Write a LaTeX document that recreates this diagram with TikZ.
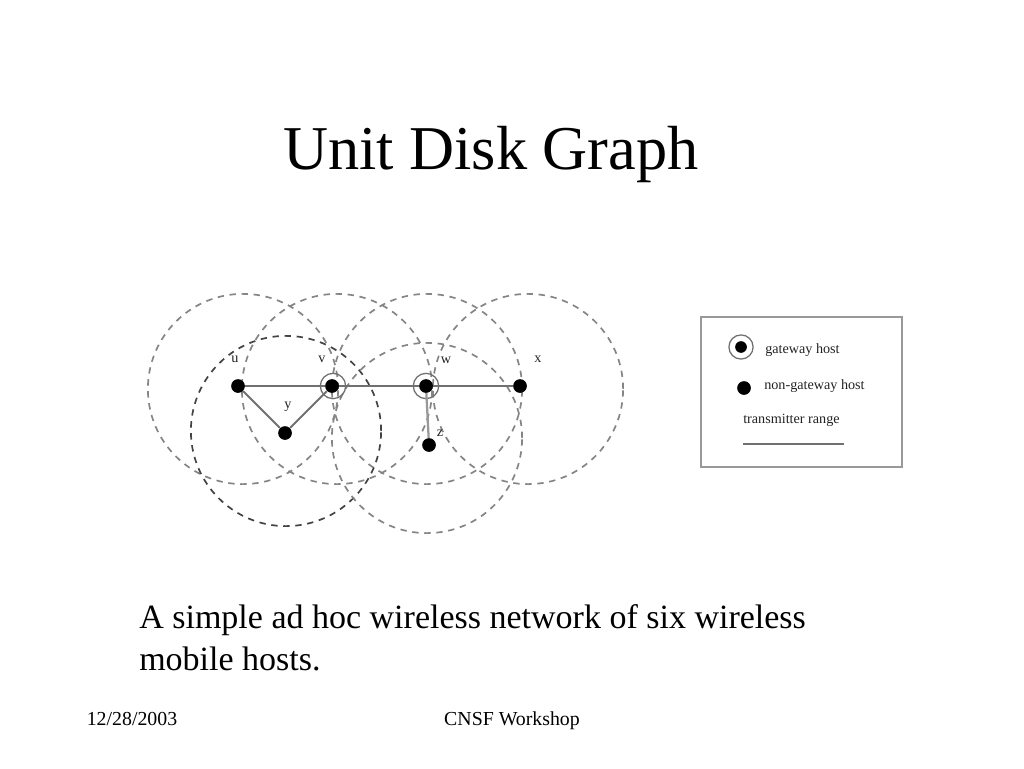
\documentclass[tikz,border=0pt]{standalone}
\usepackage{fontspec}
\setmainfont{Liberation Serif}
\usetikzlibrary{positioning}
\definecolor{RangeGray}{HTML}{858585}
\definecolor{EdgeGray}{HTML}{707070}
\definecolor{BoxGray}{HTML}{999999}
\definecolor{InkDark}{HTML}{222222}

\begin{document}
\begin{tikzpicture}[x=0.0248047cm, y=-0.0248047cm,
    rangedisk/.style={circle, draw=RangeGray, line width=1.2pt, dash pattern=on 4.5pt off 4pt, minimum size=4.72cm, inner sep=0pt},
    host/.style={circle, fill=black, minimum size=0.34cm, inner sep=0pt},
    gatering/.style={circle, draw=EdgeGray, line width=0.9pt, minimum size=0.63cm, inner sep=0pt},
    hostlabel/.style={font=\fontsize{10}{11}\selectfont, text=InkDark, inner sep=0pt},
    legendlabel/.style={font=\fontsize{10}{11}\selectfont, text=InkDark, inner sep=0pt, anchor=base west},
    edge/.style={draw=EdgeGray, line width=1pt}]
  \useasboundingbox (0,0) rectangle (1024,768);

  \node[font=\fontsize{44}{50}\selectfont, anchor=base] (title) at (491,169) {Unit Disk Graph};

  \node[rangedisk] (rangeu) at (243,389) {};
  \node[rangedisk] (rangev) at (337,389) {};
  \node[rangedisk] (rangew) at (427,389) {};
  \node[rangedisk] (rangex) at (528,389) {};
  \node[rangedisk, draw=InkDark!85] (rangey) at (286,431) {};
  \node[rangedisk] (rangez) at (427,438) {};

  \node[host] (hostu) at (238,386) {};
  \node[host] (hostv) at (332,386) {};
  \node[host] (hostw) at (426,386) {};
  \node[host] (hostx) at (520,386) {};
  \node[host] (hosty) at (285,433) {};
  \node[host] (hostz) at (429,445) {};
  \node[gatering] (ringv) at (333,386) {};
  \node[gatering] (ringw) at (426,386) {};

  \draw[edge] (hostu) -- (hostv);
  \draw[edge] (hostv) -- (hostw);
  \draw[edge] (hostw) -- (hostx);
  \draw[edge, line width=1.4pt] (hostu) -- (hosty);
  \draw[edge, line width=1.4pt] (hosty) -- (hostv);
  \draw[edge, line width=1.6pt, draw=BoxGray] (hostw) -- (hostz);

  \node[hostlabel] (labelu) at (235,359) {u};
  \node[hostlabel] (labelv) at (322,359) {v};
  \node[hostlabel] (labelw) at (446,360) {w};
  \node[hostlabel] (labelx) at (538,359) {x};
  \node[hostlabel] (labely) at (288,407) {y};
  \node[hostlabel] (labelz) at (440,433) {z};

  \node[draw=BoxGray, line width=1.4pt, minimum width=4.99cm, minimum height=3.72cm, inner sep=0pt] (legendbox) at (801.5,392) {};
  \node[host, minimum size=0.29cm] (keygate) at (741,347) {};
  \node[gatering, minimum size=0.6cm] (keyring) at (741,347) {};
  \node[host] (keyhost) at (744,388) {};
  \node[legendlabel] (keygatelabel) at (765,353) {gateway host};
  \node[legendlabel] (keyhostlabel) at (764,389) {non-gateway host};
  \node[legendlabel] (keyrangelabel) at (743,423) {transmitter range};
  \coordinate (keyrangea) at (743,444);
  \coordinate (keyrangeb) at (844,444);
  \draw[edge] (keyrangea) -- (keyrangeb);

  \node[font=\fontsize{24}{29.5}\selectfont, anchor=base west, inner sep=0pt] (captiona) at (139,628)
  {A simple ad hoc wireless network of six wireless};
  \node[font=\fontsize{24}{29.5}\selectfont, anchor=base west, inner sep=0pt] (captionb) at (139,670)
  {mobile hosts.};

  \node[font=\fontsize{14}{16}\selectfont, inner sep=0pt, anchor=base] (footdate) at (132,725) {12/28/2003};
  \node[font=\fontsize{14}{16}\selectfont, inner sep=0pt, anchor=base] (footname) at (512,725) {CNSF Workshop};
\end{tikzpicture}
\end{document}
